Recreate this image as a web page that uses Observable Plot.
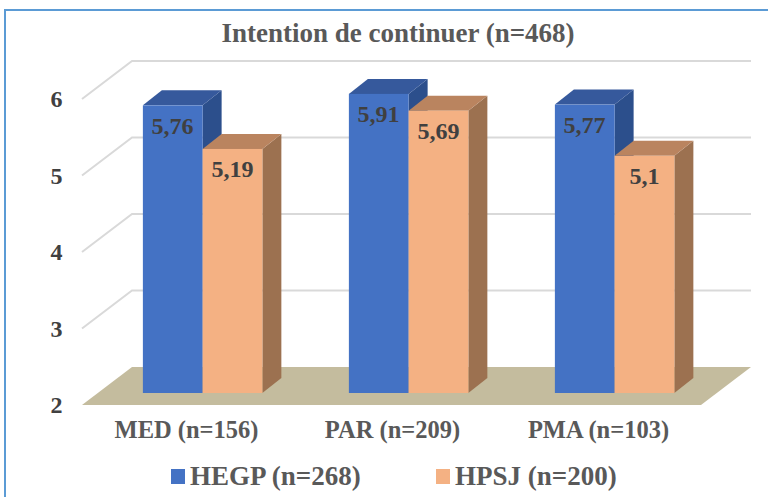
<!DOCTYPE html>
<html><head><meta charset="utf-8">
<script src="https://cdn.jsdelivr.net/npm/d3@7"></script>
<script src="https://cdn.jsdelivr.net/npm/@observablehq/plot@0.6"></script>
<style>
body{margin:0;background:#fff;overflow:hidden;}
#root{position:relative;width:768px;height:497px;overflow:hidden;font-family:"Liberation Serif","Times New Roman",serif;}
#frame{position:absolute;left:4px;top:9px;width:830px;height:560px;border:2px solid #5B9BD5;box-sizing:border-box;}
#title{position:absolute;left:14px;top:17px;width:768px;text-align:center;font-weight:bold;font-size:27px;line-height:32px;color:#595959;}
#chart{position:absolute;left:0;top:50px;}
.li{position:absolute;top:461px;height:30px;display:flex;align-items:center;gap:5px;font-size:27px;font-weight:bold;color:#595959;white-space:nowrap;}
.sw{width:14px;height:15px;display:inline-block;}
</style>
</head><body>
<div id="root">
  <div id="frame"></div>
  <div id="title">Intention de continuer (n=468)</div>
  <div id="chart"></div>
  <div id="legend"></div>
</div>
<script>
const categories = ["MED (n=156)", "PAR (n=209)", "PMA (n=103)"];
const seriesNames = ["HEGP (n=268)", "HPSJ (n=200)"];
const hegp = [5.76, 5.91, 5.77];
const hpsj = [5.19, 5.69, 5.1];
const yTicks = [2, 3, 4, 5, 6];

const palette = {
  HEGP: {front: "#4472C4", top: "#36599C", side: "#2C4F8C"},
  HPSJ: {front: "#F4B183", top: "#BA845F", side: "#9C7150"}
};
const fmt = v => String(v).replace(".", ",");
const FONT = '"Liberation Serif","Times New Roman",serif';

function bars3d(index, scales) {
  const x = scales.x, y = scales.y;
  const bw = x.bandwidth();
  const [x0, x1] = x.range();
  const y2 = y(yTicks[0]);
  const B = [50, -38], F = [16, -12], D = [19, -15];
  const g = d3.create("svg:g");
  const pts = a => a.map(p => p.join(",")).join(" ");
  g.append("polygon")
    .attr("points", pts([[x0, y2], [x1, y2], [x1 + B[0], y2 + B[1]], [x0 + B[0], y2 + B[1]]]))
    .attr("fill", "#C4BC9E");
  for (const t of yTicks.slice(1)) {
    const yy = y(t);
    g.append("polyline")
      .attr("points", pts([[x0, yy], [x0 + B[0], yy + B[1]], [x1 + B[0], yy + B[1]]]))
      .attr("fill", "none").attr("stroke", "#D9D9D9").attr("stroke-width", 2);
  }
  categories.forEach((c, i) => {
    const bx = x(c) + F[0];
    [[hegp[i], palette.HEGP], [hpsj[i], palette.HPSJ]].forEach(([v, col], j) => {
      const xl = bx + bw * (0.213 + 0.29 * j), xr = xl + bw * 0.29;
      const yt = y(v) + F[1], yb = y2 + F[1];
      g.append("polygon").attr("fill", col.side)
        .attr("points", pts([[xr, yt], [xr + D[0], yt + D[1]], [xr + D[0], yb + D[1]], [xr, yb]]));
      g.append("polygon").attr("fill", col.top)
        .attr("points", pts([[xl, yt], [xl + D[0], yt + D[1]], [xr + D[0], yt + D[1]], [xr, yt]]));
      g.append("rect").attr("fill", col.front)
        .attr("x", xl).attr("y", yt).attr("width", xr - xl).attr("height", yb - yt);
    });
  });
  return g.node();
}

const chart = Plot.plot({
  width: 768,
  height: 405,
  marginLeft: 82,
  marginRight: 67,
  marginTop: 49,
  marginBottom: 50,
  style: {background: "transparent", fontFamily: FONT, overflow: "visible"},
  x: {type: "band", domain: categories, padding: 0, axis: null},
  y: {domain: [2, 6], axis: null},
  marks: [
    bars3d,
    Plot.text(yTicks, {y: d => d, frameAnchor: "left", textAnchor: "end", dx: -20, text: d => String(d),
      fontSize: 24, fontWeight: "bold", fill: "#404040"}),
    Plot.text(categories, {x: d => d, frameAnchor: "bottom", dy: 32, text: d => d,
      fontSize: 24.5, fontWeight: "bold", fill: "#595959"}),
    Plot.text(hegp, {x: (d, i) => categories[i], y: d => d, text: fmt, dx: -14, dy: 8,
      fontSize: 24, fontWeight: "bold", fill: "#404040"}),
    Plot.text(hpsj, {x: (d, i) => categories[i], y: d => d, text: fmt, dx: 46, dy: 8,
      fontSize: 24, fontWeight: "bold", fill: "#404040"})
  ]
});
document.getElementById("chart").appendChild(chart);

const legend = document.getElementById("legend");
const legendLeft = [171, 436];
seriesNames.forEach((name, k) => {
  const key = name.split(" ")[0];
  const item = document.createElement("div");
  item.className = "li";
  item.style.left = legendLeft[k] + "px";
  const sw = document.createElement("span");
  sw.className = "sw";
  sw.style.background = palette[key].front;
  item.appendChild(sw);
  item.appendChild(document.createTextNode(name));
  legend.appendChild(item);
});
</script>
</body></html>
